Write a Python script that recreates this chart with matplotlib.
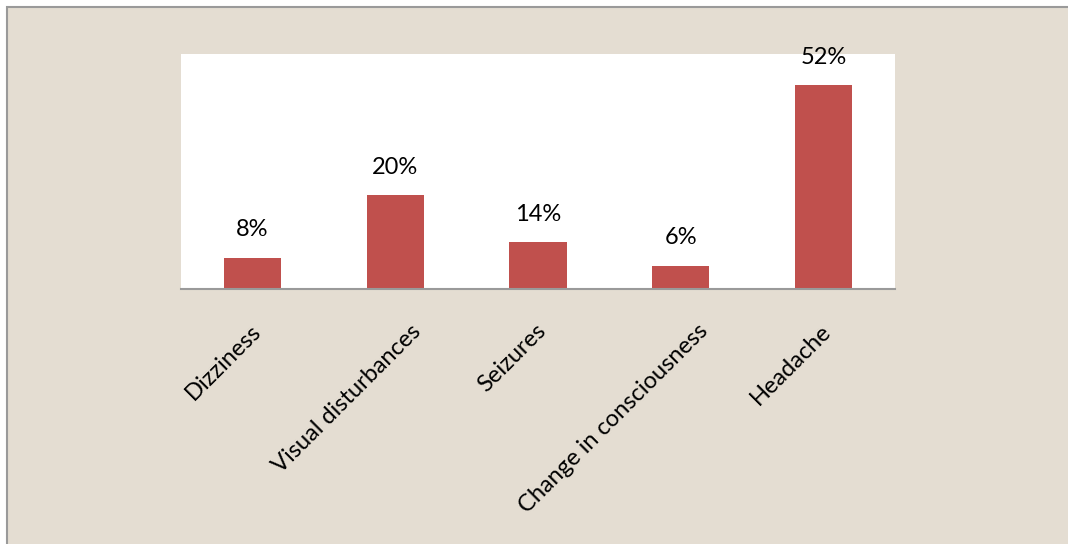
import matplotlib.pyplot as plt
import matplotlib.transforms as mtransforms
from matplotlib.patches import Rectangle

# symptom data (bar heights, labels as printed)
symptoms = ['Dizziness', 'Visual disturbances', 'Seizures',
            'Change in consciousness', 'Headache']
heights = [8, 24, 12, 6, 52]
labels = ['8%', '20%', '14%', '6%', '52%']

plt.rcParams['font.family'] = ['Lato', 'DejaVu Sans']

fig = plt.figure(figsize=(10.68, 5.44), dpi=100)
fig.patch.set_facecolor('white')

# paper style background with a thin grey frame on top/left
bg = Rectangle((7 / 1068, -0.1), 1.2, 1.1 - 7 / 544, transform=fig.transFigure,
               facecolor='#E4DDD2', edgecolor='#9A9A9A', linewidth=1.5,
               zorder=-10)
fig.patches.append(bg)

ax = fig.add_axes([181 / 1068, 1 - 289 / 544, 714 / 1068, 235 / 544])
ax.set_facecolor('white')

x = range(len(symptoms))
bars = ax.bar(x, heights, width=0.4, color='#C0504D')

for b, lab in zip(bars, labels):
    ax.annotate(lab, (b.get_x() + b.get_width() / 2, b.get_height()),
                xytext=(0, 20), textcoords='offset points',
                ha='center', va='center', fontsize=17, color='black')

ax.set_xlim(-0.5, len(symptoms) - 0.5)
ax.set_ylim(0, 60)
ax.set_yticks([])
ax.set_xticks(list(x))
ax.set_xticklabels(symptoms, rotation=45, ha='right', va='center',
                   rotation_mode='anchor', fontsize=17)
ax.tick_params(axis='x', length=0, pad=28)

# long labels sit a bit further right, like in the original
shift_px = [5, 22, 5, 24, 4]
for t, s in zip(ax.get_xticklabels(), shift_px):
    t.set_transform(t.get_transform() +
                    mtransforms.ScaledTranslation(s / 100, 0, fig.dpi_scale_trans))

for side in ['top', 'left', 'right']:
    ax.spines[side].set_visible(False)
ax.spines['bottom'].set_color('#9A9A9A')
ax.spines['bottom'].set_linewidth(1.5)

fig.savefig('out.png', dpi=100)
